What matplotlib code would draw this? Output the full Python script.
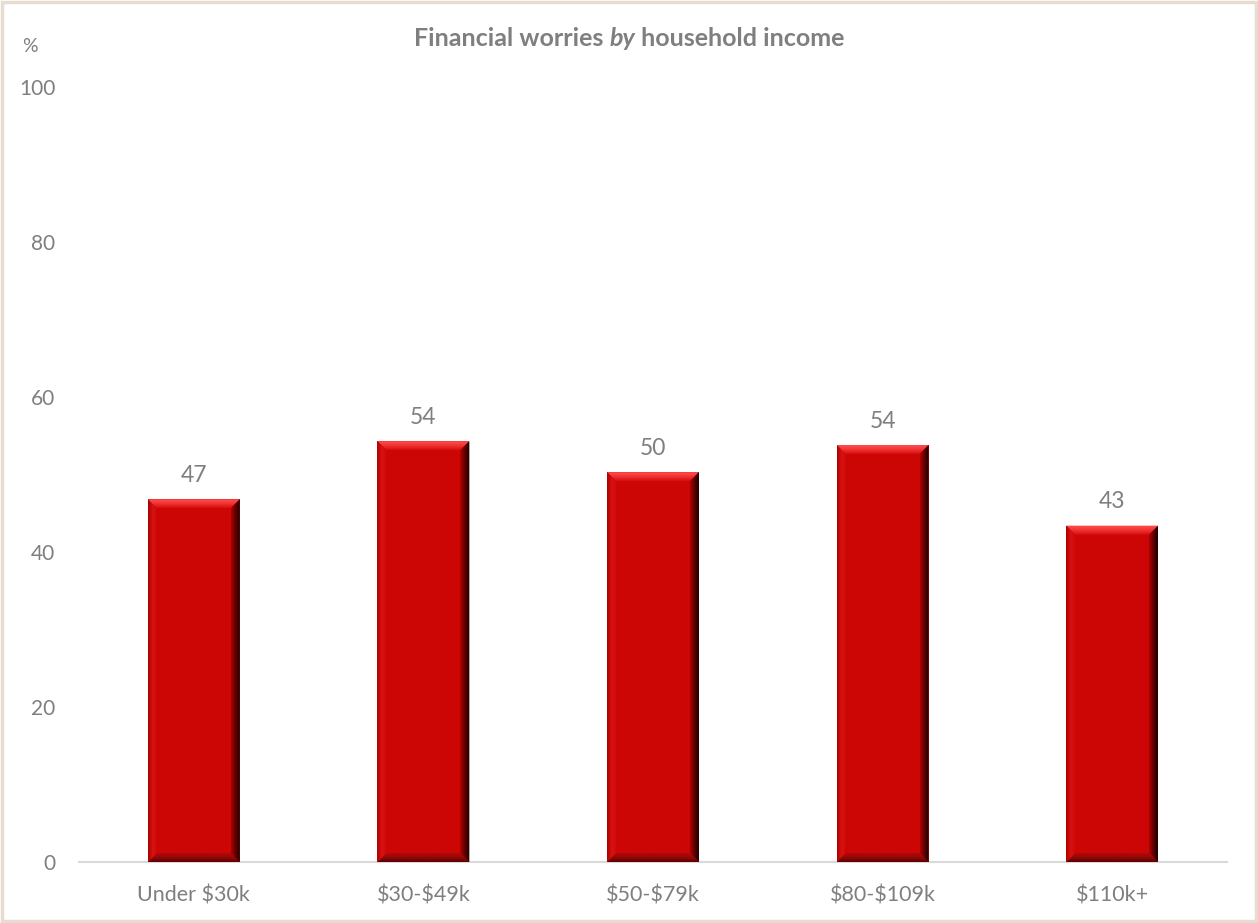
import numpy as np
from matplotlib import pyplot as plt
from matplotlib.patches import Polygon, Rectangle
from matplotlib.colors import LinearSegmentedColormap

categories = ['Under $30k', '$30-$49k', '$50-$79k', '$80-$109k', '$110k+']
worried_pct = [46.8, 54.3, 50.3, 53.8, 43.4]
y_ticks = [0, 20, 40, 60, 80, 100]

GREY = '#7f7f7f'
plt.rcParams['font.family'] = ['Lato', 'DejaVu Sans']

W, H = 1258, 923
fig = plt.figure(figsize=(W / 100, H / 100), dpi=100)

# plot area placed in pixels
ax_left, ax_right, ax_top, ax_bottom = 79, 1227, 87, 862
ax = fig.add_axes([ax_left / W, 1 - ax_bottom / H,
                   (ax_right - ax_left) / W, (ax_bottom - ax_top) / H])

x = np.arange(len(categories))
bar_w = 0.4
bars = ax.bar(x, worried_pct, width=bar_w, color='#cc0505', zorder=2)

ax.set_xlim(-0.5, len(categories) - 0.5)
ax.set_ylim(0, 100)

# size of one pixel in data units, used for the bevel edges
px_x = (len(categories)) / (ax_right - ax_left)
px_y = 100 / (ax_bottom - ax_top)
bx, by = 9 * px_x, 9 * px_y

top_cm = LinearSegmentedColormap.from_list('top', ['#d80c0c', '#f03434', '#ff5050'])
right_cm = LinearSegmentedColormap.from_list('right', ['#b00000', '#600000', '#1a0000'])
bottom_cm = LinearSegmentedColormap.from_list('bottom', ['#5e0000', '#900808', '#b40808'])
left_cm = LinearSegmentedColormap.from_list('left', ['#a80000', '#d81212', '#d00808'])


def bevel(pts, cmap, extent, vertical):
    poly = Polygon(pts, closed=True, facecolor='none', edgecolor='none', zorder=3)
    ax.add_patch(poly)
    g = np.linspace(0, 1, 64)
    grad = g[:, None] if vertical else g[None, :]
    im = ax.imshow(grad, extent=extent, origin='lower', aspect='auto',
                   cmap=cmap, zorder=3, interpolation='bilinear')
    im.set_clip_path(poly)


for b in bars:
    L = b.get_x()
    R = L + b.get_width()
    T = b.get_height()
    bevel([(L, T), (R, T), (R - bx, T - by), (L + bx, T - by)],
          top_cm, [L, R, T - by, T], True)
    bevel([(R, T), (R, 0), (R - bx, by), (R - bx, T - by)],
          right_cm, [R - bx, R, 0, T], False)
    bevel([(L, 0), (R, 0), (R - bx, by), (L + bx, by)],
          bottom_cm, [L, R, 0, by], True)
    bevel([(L, 0), (L, T), (L + bx, T - by), (L + bx, by)],
          left_cm, [L, L + bx, 0, T], False)

ax.set_xlim(-0.5, len(categories) - 0.5)
ax.set_ylim(0, 100)

for xi, v in zip(x, worried_pct):
    ax.annotate(f'{v:.0f}', (xi, v), xytext=(0, 9.5), textcoords='offset points',
                ha='center', va='bottom', fontsize=16.5, color=GREY)

ax.set_xticks(x)
ax.set_xticklabels(categories, fontsize=15.5, color=GREY)
for lbl in ax.get_xticklabels():
    lbl.set_parse_math(False)
ax.set_yticks(y_ticks)
ax.set_yticklabels([str(t) for t in y_ticks], fontsize=15, color=GREY)
ax.tick_params(axis='both', length=0)
ax.tick_params(axis='x', pad=17)
ax.tick_params(axis='y', pad=17)

for side in ['top', 'right', 'left']:
    ax.spines[side].set_visible(False)
ax.spines['bottom'].set_color('#d9d9d9')
ax.spines['bottom'].set_linewidth(1.5)
ax.spines['bottom'].set_zorder(1)

# title in three runs so that "by" can be italic
title_parts = [('Financial worries ', 'normal'), ('by', 'italic'), (' household income', 'normal')]
renderer = fig.canvas.get_renderer()
runs = []
for txt, style in title_parts:
    t = fig.text(0, 1 - 39 / H, txt, ha='left', va='center', fontsize=18,
                 fontweight='bold', fontstyle=style, color=GREY)
    runs.append(t)
widths = [t.get_window_extent(renderer).width for t in runs]
cursor = 629 - sum(widths) / 2
for t, w in zip(runs, widths):
    t.set_x(cursor / W)
    cursor += w

fig.text(22 / W, 1 - 47 / H, '%', ha='left', va='center', fontsize=14, color=GREY)

# thin beige frame round the whole chart
fig.patches.append(Rectangle((0.0015, 0.002), 0.997, 0.996, transform=fig.transFigure,
                             fill=False, edgecolor='#e6dccf', linewidth=2.5))

fig.savefig('out.png', dpi=100)
